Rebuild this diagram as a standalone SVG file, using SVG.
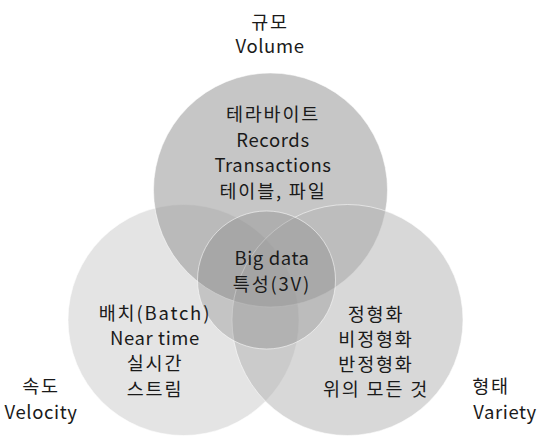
<svg xmlns="http://www.w3.org/2000/svg" width="548" height="442" viewBox="0 0 548 442">
<style>
text{font-family:"Noto Sans CJK KR","Noto Sans",sans-serif;font-size:18.5px;fill:#1a1a1a;text-anchor:middle;letter-spacing:0.6px}
.k{letter-spacing:1.8px}
.c{stroke:#fff;stroke-opacity:0.55;stroke-width:1}
</style>
<rect width="548" height="442" fill="#fff"/>
<g id="velocity">
<circle class="c" cx="183.5" cy="320" r="115.5" fill="#d9d9d9" fill-opacity="0.7"/>
</g>
<g id="volume">
<circle class="c" cx="270.5" cy="190" r="117" fill="#989898" fill-opacity="0.55"/>
</g>
<g id="variety">
<circle class="c" cx="347.5" cy="320" r="115.5" fill="#b4b4b4" fill-opacity="0.52"/>
</g>
<g id="core">
<circle class="c" cx="266.5" cy="280" r="69" fill="#7a7a7a" fill-opacity="0.3"/>
<text x="272" y="265">Big data</text>
<text class="k" x="272" y="291">특성(3V)</text>
</g>
<g id="volume-text">
<text class="k" x="273" y="121">테라바이트</text>
<text x="273" y="147">Records</text>
<text x="273" y="172">Transactions</text>
<text class="k" x="273" y="198">테이블, 파일</text>
<text class="k" x="270" y="29">규모</text>
<text x="270" y="53">Volume</text>
</g>
<g id="velocity-text">
<text class="k" x="155" y="320">배치(Batch)</text>
<text x="155" y="345">Near time</text>
<text class="k" x="155" y="370">실시간</text>
<text class="k" x="155" y="396">스트림</text>
<text class="k" x="41" y="393">속도</text>
<text x="41" y="419">Velocity</text>
</g>
<g id="variety-text">
<text class="k" x="376" y="321">정형화</text>
<text class="k" x="376" y="346">비정형화</text>
<text class="k" x="376" y="371">반정형화</text>
<text class="k" x="376" y="396">위의 모든 것</text>
<text class="k" x="491" y="393">형태</text>
<text x="505" y="419">Variety</text>
</g>
<g id="connectors"/>
</svg>
